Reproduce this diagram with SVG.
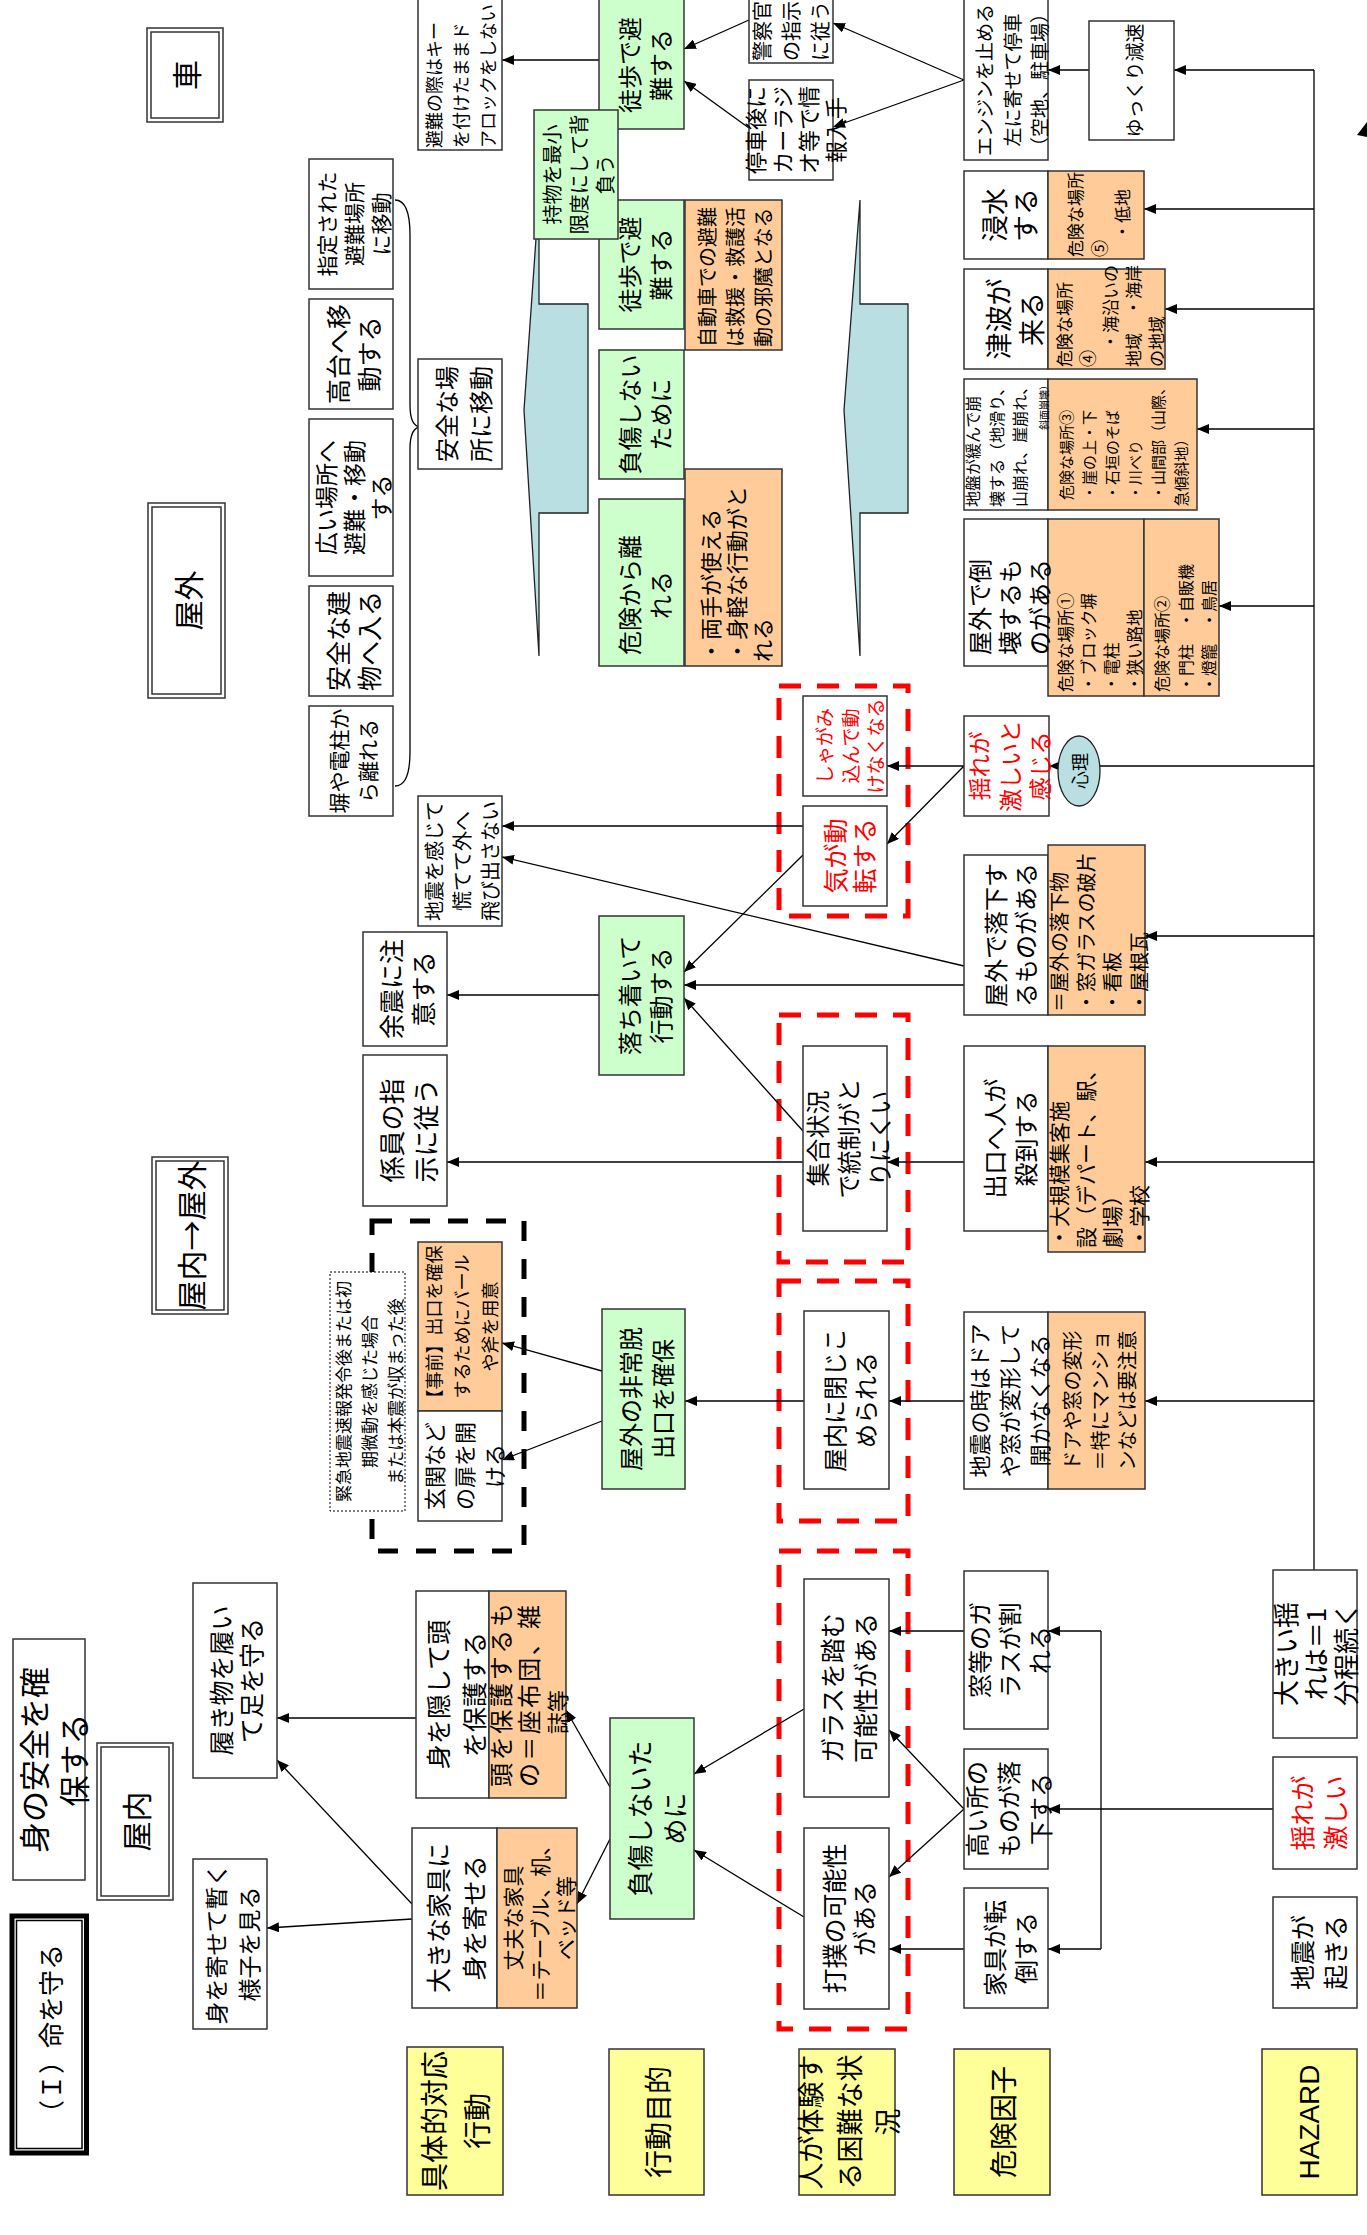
<svg xmlns="http://www.w3.org/2000/svg" width="1367" height="2235" viewBox="0 0 1367 2235">
<defs>
<marker id="ah" viewBox="0 0 12 10" refX="12" refY="5" markerWidth="12" markerHeight="10" markerUnits="userSpaceOnUse" orient="auto"><path d="M0,0 L12,5 L0,10 z" fill="#000"/></marker>
<style>
.bx{fill:#fff;stroke:#333;stroke-width:1.5}
.gr{fill:#ccffcc;stroke:#333;stroke-width:1.5}
.or{fill:#ffcc99;stroke:#333;stroke-width:1.5}
.ye{fill:#ffff99;stroke:#333;stroke-width:1.5}
.bl{fill:#b9dfe3;stroke:#222;stroke-width:1.3}
.rd{fill:none;stroke:#ff0000;stroke-width:5;stroke-dasharray:22 16}
.kd{fill:none;stroke:#000;stroke-width:5;stroke-dasharray:20 18}
.dt{fill:#fff;stroke:#000;stroke-width:1;stroke-dasharray:2 2}
.ln{stroke:#000;stroke-width:1.3;fill:none}
.ar{stroke:#000;stroke-width:1.3;fill:none;marker-end:url(#ah)}
text{font-family:"Noto Sans CJK JP","Noto Sans CJK SC",sans-serif;text-anchor:middle;dominant-baseline:central;fill:#000}
.s{text-anchor:start}
.red{fill:#ff0000}
.en{font-family:"Liberation Sans",Arial,sans-serif}
</style>
</defs>
<rect width="1367" height="2235" fill="#fff"/>

<!-- blue shapes -->
<g id="n-blue-left"><polygon class="bl" points="539,196 539,304 588,304 588,513 539,513 539,656 524,410"/></g>
<g id="n-blue-right"><polygon class="bl" points="860,200 860,304 908,304 908,513 860,513 860,656 844,410"/></g>

<!-- dashed frames -->
<g id="n-frame-black"><rect class="kd" x="372" y="1221" width="152" height="330"/></g>
<g id="n-frame-red1"><rect class="rd" x="779" y="686" width="129" height="230"/></g>
<g id="n-frame-red2"><rect class="rd" x="779" y="1015" width="129" height="247"/></g>
<g id="n-frame-red3"><rect class="rd" x="779" y="1281" width="129" height="240"/></g>
<g id="n-frame-red4"><rect class="rd" x="779" y="1551" width="129" height="478"/></g>

<g id="connectors">
<line class="ln" x1="1314" y1="70" x2="1314" y2="1570"/>
<line class="ln" x1="1101" y1="1631" x2="1101" y2="1949"/>
<line class="ar" x1="1314" y1="70" x2="1174" y2="70"/>
<line class="ar" x1="1089" y1="70" x2="1048" y2="70"/>
<line class="ar" x1="1314" y1="209" x2="1144" y2="209"/>
<line class="ar" x1="1314" y1="309" x2="1165" y2="309"/>
<line class="ar" x1="1314" y1="429" x2="1197" y2="429"/>
<line class="ar" x1="1314" y1="606" x2="1219" y2="606"/>
<line class="ar" x1="1314" y1="766" x2="1049" y2="766"/>
<line class="ar" x1="1314" y1="936" x2="1145" y2="936"/>
<line class="ar" x1="1314" y1="1162" x2="1145" y2="1162"/>
<line class="ar" x1="1314" y1="1401" x2="1145" y2="1401"/>
<line class="ar" x1="964" y1="80" x2="833" y2="23"/>
<line class="ar" x1="964" y1="80" x2="833" y2="127"/>
<line class="ar" x1="749" y1="20" x2="684" y2="49"/>
<line class="ar" x1="749" y1="128" x2="684" y2="81"/>
<line class="ar" x1="599" y1="60" x2="502" y2="60"/>
<line class="ar" x1="964" y1="766" x2="887" y2="766"/>
<line class="ar" x1="964" y1="766" x2="887" y2="844"/>
<line class="ar" x1="803" y1="826" x2="502" y2="826"/>
<line class="ar" x1="803" y1="855" x2="684" y2="972"/>
<line class="ar" x1="964" y1="966" x2="502" y2="857"/>
<line class="ar" x1="964" y1="985" x2="684" y2="985"/>
<line class="ar" x1="803" y1="1131" x2="684" y2="998"/>
<line class="ar" x1="599" y1="995" x2="447" y2="995"/>
<line class="ar" x1="803" y1="1162" x2="447" y2="1162"/>
<line class="ar" x1="964" y1="1162" x2="887" y2="1162"/>
<line class="ar" x1="964" y1="1401" x2="889" y2="1401"/>
<line class="ar" x1="804" y1="1401" x2="685" y2="1401"/>
<line class="ar" x1="602" y1="1371" x2="502" y2="1343"/>
<line class="ar" x1="602" y1="1421" x2="502" y2="1460"/>
<line class="ar" x1="964" y1="1631" x2="889" y2="1631"/>
<line class="ar" x1="1273" y1="1809" x2="1048" y2="1809"/>
<line class="ar" x1="1101" y1="1631" x2="1048" y2="1631"/>
<line class="ar" x1="1101" y1="1949" x2="1048" y2="1949"/>
<line class="ar" x1="964" y1="1809" x2="889" y2="1730"/>
<line class="ar" x1="964" y1="1809" x2="889" y2="1877"/>
<line class="ar" x1="964" y1="1949" x2="889" y2="1949"/>
<line class="ar" x1="804" y1="1709" x2="694" y2="1774"/>
<line class="ar" x1="804" y1="1917" x2="694" y2="1850"/>
<line class="ar" x1="610" y1="1787" x2="566" y2="1710"/>
<line class="ar" x1="610" y1="1839" x2="577" y2="1904"/>
<line class="ar" x1="416" y1="1718" x2="277" y2="1718"/>
<line class="ar" x1="412" y1="1904" x2="277" y2="1760"/>
<line class="ar" x1="412" y1="1919" x2="267" y2="1928"/>
<path class="ln" d="M395,200 Q410,200 410,235 L410,405 Q410,427 421,427 Q410,427 410,449 L410,752 Q410,786 395,786"/>
<polygon points="1357,135 1367,122 1367,137" fill="#000"/>
</g>

<!-- headers -->
<g id="n-car"><rect class="bx" x="147" y="28" width="76" height="94"/><rect class="bx" x="151" y="32" width="68" height="86"/><text transform="translate(185,75) rotate(-90)" font-size="30">車</text></g>
<g id="n-outdoor"><rect class="bx" x="148" y="503" width="77" height="195"/><rect class="bx" x="152" y="507" width="69" height="187"/><text transform="translate(186.5,600.5) rotate(-90)" font-size="30">屋外</text></g>
<g id="n-in-out"><rect class="bx" x="152" y="1157" width="76" height="157"/><rect class="bx" x="156" y="1161" width="68" height="149"/><text transform="translate(190,1235.5) rotate(-90)" font-size="30">屋内→屋外</text></g>
<g id="n-indoor"><rect class="bx" x="97" y="1743" width="76" height="157"/><rect class="bx" x="101" y="1747" width="68" height="149"/><text transform="translate(135,1821.5) rotate(-90)" font-size="30">屋内</text></g>
<g id="n-title"><rect x="12" y="1916" width="74.5" height="237" fill="#fff" stroke="#000" stroke-width="5"/><rect x="16.5" y="1920.5" width="65.5" height="228" fill="none" stroke="#000" stroke-width="1.5"/><text transform="translate(49,2035) rotate(-90)" font-size="26">（Ｉ）命を守る</text></g>
<g id="n-safety"><rect class="bx" x="13" y="1639" width="72" height="241"/><text transform="translate(52,1760) rotate(-90)" font-size="31"><tspan x="0" y="-20">身の安全を確</tspan><tspan x="0" y="20">保する</tspan></text></g>

<!-- column: concrete actions -->
<g id="n-key"><rect class="bx" x="418" y="-2" width="84" height="152"/><text class="s" transform="translate(460,148) rotate(-90)" font-size="18"><tspan x="0" y="-27">避難の際はキー</tspan><tspan x="0" y="0">を付けたままド</tspan><tspan x="0" y="27">アロックをしない</tspan></text></g>
<g id="n-shelter"><rect class="bx" x="309" y="159" width="84" height="130"/><text transform="translate(353,224) rotate(-90)" font-size="21"><tspan x="0" y="-27">指定された</tspan><tspan x="0" y="0">避難場所</tspan><tspan x="0" y="27">に移動</tspan></text></g>
<g id="n-high"><rect class="bx" x="309" y="299" width="84" height="110"/><text transform="translate(352.5,354) rotate(-90)" font-size="25"><tspan x="0" y="-15.5">高台へ移</tspan><tspan x="0" y="15.5">動する</tspan></text></g>
<g id="n-wide"><rect class="bx" x="309" y="419" width="84" height="157"/><text transform="translate(352.5,497.5) rotate(-90)" font-size="23"><tspan x="0" y="-27.5">広い場所へ</tspan><tspan x="0" y="0">避難・移動</tspan><tspan x="0" y="27.5">する</tspan></text></g>
<g id="n-building"><rect class="bx" x="309" y="586" width="84" height="110"/><text transform="translate(352.5,641) rotate(-90)" font-size="25"><tspan x="0" y="-15.5">安全な建</tspan><tspan x="0" y="15.5">物へ入る</tspan></text></g>
<g id="n-wall"><rect class="bx" x="309" y="706" width="84" height="110"/><text transform="translate(352.5,761) rotate(-90)" font-size="21"><tspan x="0" y="-14.5">塀や電柱か</tspan><tspan x="0" y="14.5">ら離れる</tspan></text></g>
<g id="n-safeplace"><rect class="bx" x="418" y="359" width="84" height="110"/><text transform="translate(462,414) rotate(-90)" font-size="24"><tspan x="0" y="-17">安全な場</tspan><tspan x="0" y="17">所に移動</tspan></text></g>
<g id="n-norush"><rect class="bx" x="418" y="796" width="84" height="130"/><text transform="translate(461,861) rotate(-90)" font-size="20"><tspan x="0" y="-28">地震を感じて</tspan><tspan x="0" y="0">慌てて外へ</tspan><tspan x="0" y="28">飛び出さない</tspan></text></g>
<g id="n-aftershock"><rect class="bx" x="363" y="932" width="84" height="114"/><text transform="translate(406,989) rotate(-90)" font-size="25"><tspan x="0" y="-16">余震に注</tspan><tspan x="0" y="16">意する</tspan></text></g>
<g id="n-staff"><rect class="bx" x="363" y="1055" width="84" height="151"/><text transform="translate(407,1130.5) rotate(-90)" font-size="26"><tspan x="0" y="-17">係員の指</tspan><tspan x="0" y="17">示に従う</tspan></text></g>
<g id="n-note"><rect class="dt" x="330" y="1272" width="75" height="239"/><text transform="translate(368,1391.5) rotate(-90)" font-size="17"><tspan x="0" y="-26">緊急地震速報発令後または初</tspan><tspan x="0" y="0">期微動を感じた場合</tspan><tspan x="0" y="26">または本震が収まった後</tspan></text></g>
<g id="n-prepare"><rect class="or" x="418" y="1242" width="84" height="169"/><text transform="translate(461,1326.5) rotate(-90)" font-size="18"><tspan x="0" y="-28">【事前】出口を確保</tspan><tspan x="0" y="0">するためにバール</tspan><tspan x="0" y="28">や斧を用意</tspan></text></g>
<g id="n-door"><rect class="bx" x="418" y="1411" width="84" height="110"/><text transform="translate(463,1466) rotate(-90)" font-size="22"><tspan x="0" y="-30">玄関など</tspan><tspan x="0" y="0">の扉を開</tspan><tspan x="0" y="30">ける</tspan></text></g>
<g id="n-shoes"><rect class="bx" x="193" y="1583" width="84" height="195"/><text transform="translate(235,1680.5) rotate(-90)" font-size="25"><tspan x="0" y="-15">履き物を履い</tspan><tspan x="0" y="15">て足を守る</tspan></text></g>
<g id="n-wait"><rect class="bx" x="193" y="1859" width="74" height="170"/><text transform="translate(231.5,1944) rotate(-90)" font-size="23"><tspan x="0" y="-16.5">身を寄せて暫く</tspan><tspan x="0" y="16.5">様子を見る</tspan></text></g>
<g id="n-hide"><rect class="bx" x="416" y="1591" width="73" height="207"/><rect class="or" x="489" y="1591" width="77" height="207"/><text transform="translate(455,1694.5) rotate(-90)" font-size="25"><tspan x="0" y="-18">身を隠して頭</tspan><tspan x="0" y="18">を保護する</tspan></text><text class="s" transform="translate(499,1787) rotate(-90)" font-size="24" textLength="184" lengthAdjust="spacing">頭を保護するも</text><text class="s" transform="translate(527.5,1787) rotate(-90)" font-size="24" textLength="182" lengthAdjust="spacing">の＝座布団、雑</text><text class="s" transform="translate(556,1734) rotate(-90)" font-size="22">誌等</text></g>
<g id="n-furniture"><rect class="bx" x="412" y="1828" width="85" height="180"/><rect class="or" x="497" y="1828" width="80" height="180"/><text transform="translate(455,1918) rotate(-90)" font-size="25"><tspan x="0" y="-18">大きな家具に</tspan><tspan x="0" y="18">身を寄せる</tspan></text><text transform="translate(538.5,1918) rotate(-90)" font-size="21"><tspan x="0" y="-26.5">丈夫な家具</tspan><tspan x="0" y="0">＝テーブル、机、</tspan><tspan x="0" y="26.5">ベッド等</tspan></text></g>

<!-- column: action purpose -->
<g id="n-walk1"><rect class="gr" x="599" y="-1" width="85" height="130"/><text transform="translate(643.5,65) rotate(-90)" font-size="24"><tspan x="0" y="-15.5">徒歩で避</tspan><tspan x="0" y="15.5">難する</tspan></text></g>
<g id="n-walk2"><rect class="gr" x="599" y="200" width="85" height="129"/><text transform="translate(643.5,264.5) rotate(-90)" font-size="24"><tspan x="0" y="-15.5">徒歩で避</tspan><tspan x="0" y="15.5">難する</tspan></text></g>
<g id="n-carry"><rect class="gr" x="534" y="110" width="84" height="129"/><text transform="translate(577.5,174.5) rotate(-90)" font-size="20"><tspan x="0" y="-26.5">持物を最小</tspan><tspan x="0" y="0">限度にして背</tspan><tspan x="0" y="26.5">負う</tspan></text></g>
<g id="n-carnote"><rect class="or" x="685" y="200" width="97" height="150"/><text class="s" transform="translate(734,275) rotate(-90)" font-size="20"><tspan x="-72" y="-28">自動車での避難</tspan><tspan x="-72" y="0">は救援・救護活</tspan><tspan x="-72" y="28">動の邪魔となる</tspan></text></g>
<g id="n-injury1"><rect class="gr" x="599" y="350" width="85" height="129"/><text transform="translate(643.5,414.5) rotate(-90)" font-size="24"><tspan x="0" y="-15.5">負傷しない</tspan><tspan x="0" y="15.5">ために</tspan></text></g>
<g id="n-away"><rect class="gr" x="599" y="499" width="85" height="167"/><text transform="translate(643.5,595) rotate(-90)" font-size="24"><tspan x="0" y="-15.5">危険から離</tspan><tspan x="0" y="15.5">れる</tspan></text></g>
<g id="n-hands"><rect class="or" x="685" y="469" width="97" height="197"/><text class="s" transform="translate(735,567.5) rotate(-90)" font-size="22"><tspan x="-94.5" y="-26">・両手が使える</tspan><tspan x="-94.5" y="0">・身軽な行動がと</tspan><tspan x="-94.5" y="26">れる</tspan></text></g>
<g id="n-calm"><rect class="gr" x="599" y="916" width="85" height="159"/><text transform="translate(643.5,995.5) rotate(-90)" font-size="24"><tspan x="0" y="-15.5">落ち着いて</tspan><tspan x="0" y="15.5">行動する</tspan></text></g>
<g id="n-exit"><rect class="gr" x="602" y="1309" width="83" height="180"/><text transform="translate(645,1399) rotate(-90)" font-size="24"><tspan x="0" y="-16">屋外の非常脱</tspan><tspan x="0" y="16">出口を確保</tspan></text></g>
<g id="n-injury2"><rect class="gr" x="610" y="1718" width="84" height="201"/><text transform="translate(655.5,1818.5) rotate(-90)" font-size="26"><tspan x="0" y="-17.5">負傷しないた</tspan><tspan x="0" y="17.5">めに</tspan></text></g>

<!-- column: difficult situations -->
<g id="n-police"><rect class="bx" x="749" y="-2" width="84" height="65"/><text class="s" transform="translate(790,61) rotate(-90)" font-size="20"><tspan x="0" y="-29">警察官</tspan><tspan x="0" y="0">の指示</tspan><tspan x="0" y="29">に従う</tspan></text></g>
<g id="n-radio"><rect class="bx" x="749" y="80" width="84" height="100"/><text transform="translate(794,130) rotate(-90)" font-size="22"><tspan x="0" y="-40">停車後に</tspan><tspan x="0" y="-13.3">カーラジ</tspan><tspan x="0" y="13.3">オ等で情</tspan><tspan x="0" y="40">報入手</tspan></text></g>
<g id="n-crouch"><rect class="bx" x="803" y="696" width="84" height="100"/><text class="red" transform="translate(848.5,746) rotate(-90)" font-size="19"><tspan x="0" y="-25.5">しゃがみ</tspan><tspan x="0" y="0">込んで動</tspan><tspan x="0" y="25.5">けなくなる</tspan></text></g>
<g id="n-panic"><rect class="bx" x="803" y="806" width="84" height="100"/><text class="red" transform="translate(848.5,856) rotate(-90)" font-size="25"><tspan x="0" y="-14.5">気が動</tspan><tspan x="0" y="14.5">転する</tspan></text></g>
<g id="n-crowd"><rect class="bx" x="803" y="1046" width="84" height="185"/><text transform="translate(847,1138.5) rotate(-90)" font-size="24"><tspan x="0" y="-31">集合状況</tspan><tspan x="0" y="0">で統制がと</tspan><tspan x="0" y="31">りにくい</tspan></text></g>
<g id="n-trapped"><rect class="bx" x="804" y="1311" width="85" height="178"/><text transform="translate(848.5,1400) rotate(-90)" font-size="24"><tspan x="0" y="-15.5">屋内に閉じこ</tspan><tspan x="0" y="15.5">められる</tspan></text></g>
<g id="n-glass"><rect class="bx" x="804" y="1579" width="85" height="218"/><text transform="translate(847.5,1688) rotate(-90)" font-size="25"><tspan x="0" y="-16.5">ガラスを踏む</tspan><tspan x="0" y="16.5">可能性がある</tspan></text></g>
<g id="n-bruise"><rect class="bx" x="804" y="1828" width="85" height="181"/><text transform="translate(848,1918.5) rotate(-90)" font-size="25"><tspan x="0" y="-15">打撲の可能性</tspan><tspan x="0" y="15">がある</tspan></text></g>

<!-- column: risk factors -->
<g id="n-engine"><rect class="bx" x="964" y="-2" width="84" height="162"/><text transform="translate(1010.5,80) rotate(-90)" font-size="19"><tspan x="0" y="-27.5">エンジンを止める</tspan><tspan x="0" y="0">左に寄せて停車</tspan><tspan x="0" y="27.5">（空地、駐車場）</tspan></text></g>
<g id="n-slow"><rect class="bx" x="1089" y="21" width="85" height="119"/><text transform="translate(1133,80.5) rotate(-90)" font-size="19">ゆっくり減速</text></g>
<g id="n-flood"><rect class="bx" x="964" y="171" width="84" height="88"/><rect class="or" x="1048" y="171" width="96" height="88"/><text transform="translate(1008.5,215) rotate(-90)" font-size="27"><tspan x="0" y="-15.5">浸水</tspan><tspan x="0" y="15.5">する</tspan></text><text class="s" transform="translate(1097.5,215) rotate(-90)" font-size="17"><tspan x="-42" y="-23.5">危険な場所</tspan><tspan x="-42" y="0">⑤</tspan><tspan x="-42" y="23.5">　・低地</tspan></text></g>
<g id="n-tsunami"><rect class="bx" x="964" y="269" width="84" height="100"/><rect class="or" x="1048" y="269" width="117" height="100"/><text transform="translate(1013.5,319) rotate(-90)" font-size="27"><tspan x="0" y="-16.5">津波が</tspan><tspan x="0" y="16.5">来る</tspan></text><text class="s" transform="translate(1109,319) rotate(-90)" font-size="17"><tspan x="-48" y="-46">危険な場所</tspan><tspan x="-48" y="-23">④</tspan><tspan x="-48" y="0">　・海沿いの</tspan><tspan x="-48" y="23">地域　・海岸</tspan><tspan x="-48" y="46">の地域</tspan></text></g>
<g id="n-ground"><rect class="bx" x="964" y="379" width="84" height="131"/><rect class="or" x="1048" y="379" width="149" height="131"/><text class="s" transform="translate(1007.5,444.5) rotate(-90)" font-size="16"><tspan x="-62.5" y="-35.25">地盤が緩んで崩</tspan><tspan x="-62.5" y="-11.75">壊する（地滑り、</tspan><tspan x="-62.5" y="11.75">山崩れ、崖崩れ、</tspan><tspan x="14.5" y="35.25" font-size="10">斜面崩壊）</tspan></text><text class="s" transform="translate(1122,444.5) rotate(-90)" font-size="15"><tspan x="-55.5" y="-57.5">危険な場所③</tspan><tspan x="-55.5" y="-34.5">・崖の上・下</tspan><tspan x="-55.5" y="-11.5">・石垣のそば</tspan><tspan x="-55.5" y="11.5">・川べり</tspan><tspan x="-55.5" y="34.5">・山間部（山際、</tspan><tspan x="-62" y="57.5">急傾斜地）</tspan></text></g>
<g id="n-collapse"><rect class="bx" x="964" y="519" width="84" height="147"/><rect class="or" x="1048" y="519" width="96" height="177"/><rect class="or" x="1144" y="519" width="75" height="177"/><text transform="translate(1008,607) rotate(-90)" font-size="24"><tspan x="0" y="-30">屋外で倒</tspan><tspan x="0" y="0">壊するも</tspan><tspan x="0" y="30">のがある</tspan></text><text class="s" transform="translate(1099,607.5) rotate(-90)" font-size="16.5"><tspan x="-84.5" y="-34.5">危険な場所①</tspan><tspan x="-84.5" y="-11.5">・ブロック塀</tspan><tspan x="-84.5" y="11.5">・電柱</tspan><tspan x="-84.5" y="34.5">・狭い路地</tspan></text><text class="s" transform="translate(1184.5,607.5) rotate(-90)" font-size="16"><tspan x="-84.5" y="-23.5">危険な場所②</tspan><tspan x="-84.5" y="0">・門柱　・自販機</tspan><tspan x="-84.5" y="23.5">・燈籠　・鳥居</tspan></text></g>
<g id="n-feel"><rect class="bx" x="964" y="716" width="85" height="100"/><text class="red" transform="translate(1008.5,766) rotate(-90)" font-size="23"><tspan x="0" y="-30.5">揺れが</tspan><tspan x="0" y="0">激しいと</tspan><tspan x="0" y="30.5">感じる</tspan></text></g>
<g id="n-psych"><ellipse class="bl" cx="1079" cy="771" rx="21" ry="35"/><text transform="translate(1079,771) rotate(-90)" font-size="18">心理</text></g>
<g id="n-falling"><rect class="bx" x="964" y="855" width="84" height="160"/><rect class="or" x="1048" y="845" width="97" height="170"/><text transform="translate(1009,935) rotate(-90)" font-size="24"><tspan x="0" y="-15">屋外で落下す</tspan><tspan x="0" y="15">るものがある</tspan></text><text class="s" transform="translate(1098,930) rotate(-90)" font-size="20"><tspan x="-82" y="-40">＝屋外の落下物</tspan><tspan x="-82" y="-13.3">・窓ガラスの破片</tspan><tspan x="-82" y="13.3">・看板</tspan><tspan x="-82" y="40">・屋根瓦</tspan></text></g>
<g id="n-rush"><rect class="bx" x="964" y="1046" width="84" height="185"/><rect class="or" x="1048" y="1046" width="97" height="206"/><text transform="translate(1008.5,1138.5) rotate(-90)" font-size="24"><tspan x="0" y="-15.5">出口へ人が</tspan><tspan x="0" y="15.5">殺到する</tspan></text><text class="s" transform="translate(1098,1149) rotate(-90)" font-size="21"><tspan x="-99" y="-40">・大規模集客施</tspan><tspan x="-99" y="-13.3">設（デパート、駅、</tspan><tspan x="-99" y="13.3">劇場）</tspan><tspan x="-99" y="40">・学校</tspan></text></g>
<g id="n-deform"><rect class="bx" x="964" y="1312" width="84" height="177"/><rect class="or" x="1048" y="1312" width="97" height="177"/><text transform="translate(1008,1400.5) rotate(-90)" font-size="22"><tspan x="0" y="-30">地震の時はドア</tspan><tspan x="0" y="0">や窓が変形して</tspan><tspan x="0" y="30">開かなくなる</tspan></text><text transform="translate(1098.5,1400.5) rotate(-90)" font-size="20"><tspan x="0" y="-27.5">ドアや窓の変形</tspan><tspan x="0" y="0">＝特にマンショ</tspan><tspan x="0" y="27.5">ンなどは要注意</tspan></text></g>
<g id="n-window"><rect class="bx" x="964" y="1571" width="84" height="158"/><text transform="translate(1008,1650) rotate(-90)" font-size="24"><tspan x="0" y="-30">窓等のガ</tspan><tspan x="0" y="0">ラスが割</tspan><tspan x="0" y="30">れる</tspan></text></g>
<g id="n-fall"><rect class="bx" x="964" y="1749" width="84" height="120"/><text transform="translate(1007,1809) rotate(-90)" font-size="24"><tspan x="0" y="-32">高い所の</tspan><tspan x="0" y="0">ものが落</tspan><tspan x="0" y="32">下する</tspan></text></g>
<g id="n-topple"><rect class="bx" x="964" y="1888" width="84" height="120"/><text transform="translate(1008.5,1948) rotate(-90)" font-size="24"><tspan x="0" y="-15.5">家具が転</tspan><tspan x="0" y="15.5">倒する</tspan></text></g>

<!-- column: hazard -->
<g id="n-long"><rect class="bx" x="1273" y="1570" width="84" height="168"/><text transform="translate(1314,1654) rotate(-90)" font-size="26"><tspan x="0" y="-30">大きい揺</tspan><tspan x="0" y="0">れは＝1</tspan><tspan x="0" y="30">分程続く</tspan></text></g>
<g id="n-strong"><rect class="bx" x="1273" y="1757" width="84" height="112"/><text class="red" transform="translate(1317.5,1813) rotate(-90)" font-size="25"><tspan x="0" y="-16.5">揺れが</tspan><tspan x="0" y="16.5">激しい</tspan></text></g>
<g id="n-quake"><rect class="bx" x="1273" y="1897" width="84" height="111"/><text transform="translate(1317.5,1952.5) rotate(-90)" font-size="25"><tspan x="0" y="-16.5">地震が</tspan><tspan x="0" y="16.5">起きる</tspan></text></g>

<!-- row labels -->
<g id="n-lab-action"><rect class="ye" x="407" y="2047" width="96" height="148"/><text transform="translate(454.5,2121) rotate(-90)" font-size="28"><tspan x="0" y="-21.5">具体的対応</tspan><tspan x="0" y="21.5">行動</tspan></text></g>
<g id="n-lab-purpose"><rect class="ye" x="609" y="2049" width="95" height="146"/><text transform="translate(656.5,2122) rotate(-90)" font-size="28">行動目的</text></g>
<g id="n-lab-situation"><rect class="ye" x="799" y="2049" width="96" height="146"/><text transform="translate(847.5,2122) rotate(-90)" font-size="27"><tspan x="0" y="-38.5">人が体験す</tspan><tspan x="0" y="0">る困難な状</tspan><tspan x="0" y="38.5">況</tspan></text></g>
<g id="n-lab-risk"><rect class="ye" x="954" y="2049" width="96" height="146"/><text transform="translate(1002,2122) rotate(-90)" font-size="28">危険因子</text></g>
<g id="n-lab-hazard"><rect class="ye" x="1262" y="2049" width="95" height="146"/><text class="en" transform="translate(1309.5,2122) rotate(-90)" font-size="28">HAZARD</text></g>
</svg>
